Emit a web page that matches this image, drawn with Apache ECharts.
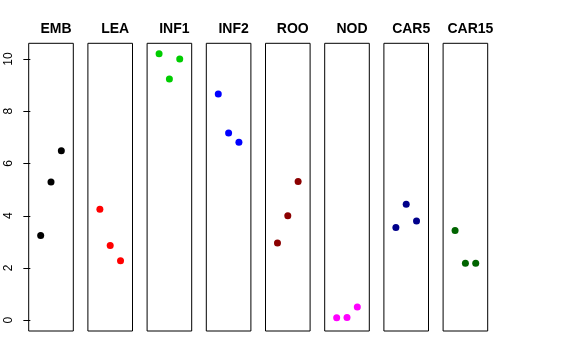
<!DOCTYPE html>
<html>
<head>
<meta charset="utf-8">
<script src="https://cdn.jsdelivr.net/npm/echarts@6/dist/echarts.min.js"></script>
<style>html,body{margin:0;padding:0;background:#fff}#c{width:576px;height:360px}</style>
</head>
<body>
<div id="c"></div>
<script>
var categories = ["EMB", "LEA", "INF1", "INF2", "ROO", "NOD", "CAR5", "CAR15"];
var EMB = [3.24, 5.29, 6.49];
var LEA = [4.25, 2.86, 2.28];
var INF1 = [10.20, 9.23, 10.00];
var INF2 = [8.66, 7.17, 6.81];
var ROO = [2.96, 4.00, 5.31];
var NOD = [0.10, 0.11, 0.51];
var CAR5 = [3.55, 4.44, 3.80];
var CAR15 = [3.44, 2.18, 2.18];
var yTicks = [0, 2, 4, 6, 8, 10];
var colors = ["#000000", "#FF0000", "#00CD00", "#0000FF", "#8B0000", "#FF00FF", "#00008B", "#006400"];

(function () {
  var panelValues = [EMB, LEA, INF1, INF2, ROO, NOD, CAR5, CAR15];
  var font = "'Liberation Sans', Arial, Helvetica, sans-serif";
  var grids = [], xAxes = [], yAxes = [], series = [], titles = [];
  var left0 = 28.7, step = 59.2, gw = 44.6, gTop = 43.3, gh = 287.7;
  categories.forEach(function (name, i) {
    var l = left0 + step * i;
    grids.push({left: l, top: gTop, width: gw, height: gh, show: true, borderColor: '#000', borderWidth: 1, backgroundColor: 'transparent'});
    xAxes.push({type: 'value', gridIndex: i, min: -0.16, max: 4.16, show: false});
    var ya = {type: 'value', gridIndex: i, min: -0.41, max: 10.6, splitLine: {show: false}, axisLine: {show: false}};
    if (i === 0) {
      ya.axisTick = {show: true, length: 7, lineStyle: {color: '#000'}, customValues: yTicks};
      ya.axisLabel = {show: true, rotate: 90, margin: 14, fontSize: 12, color: '#000', fontFamily: font, customValues: yTicks};
    } else {
      ya.show = false;
    }
    yAxes.push(ya);
    series.push({
      type: 'scatter', xAxisIndex: i, yAxisIndex: i,
      symbol: 'circle', symbolSize: 7,
      itemStyle: {color: colors[i], opacity: 1},
      data: panelValues[i].map(function (v, j) { return [j + 1, v]; })
    });
    titles.push({text: name, left: l + gw / 2, top: 17, textAlign: 'center',
      textStyle: {fontSize: 14, fontWeight: 'bold', color: '#000', fontFamily: font}});
  });

  var chart = echarts.init(document.getElementById('c'), null, {renderer: 'canvas'});
  chart.setOption({
    animation: false,
    backgroundColor: '#fff',
    title: titles,
    grid: grids,
    xAxis: xAxes,
    yAxis: yAxes,
    series: series
  });
})();
</script>
</body>
</html>
